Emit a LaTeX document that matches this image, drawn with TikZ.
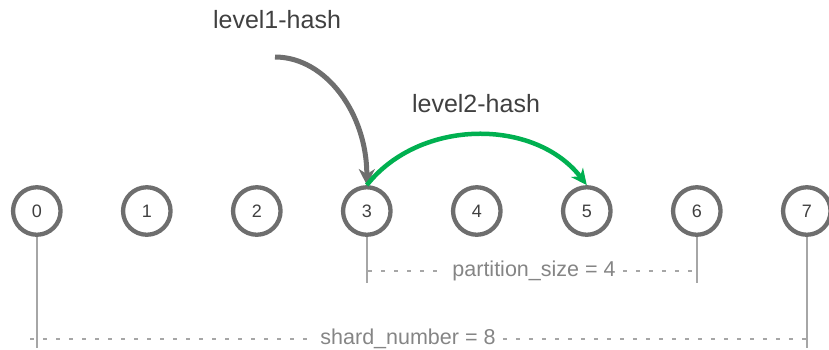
\documentclass[tikz,border=0pt]{standalone}
\usepackage{fontspec}
\setmainfont{Liberation Sans}
\usetikzlibrary{arrows.meta}
\definecolor{ringgray}{HTML}{6E6E6E}
\definecolor{txtgray}{HTML}{404040}
\definecolor{dimline}{HTML}{A6A6A6}
\definecolor{dimtxt}{HTML}{858585}
\definecolor{hashgreen}{HTML}{00B050}
\tikzset{
  shard/.style={circle, draw=ringgray, line width=4.3pt, minimum size=47.5pt, inner sep=0pt, fill=white, text=txtgray, font=\fontsize{18pt}{20pt}\selectfont},
  hashlabel/.style={text=txtgray, font=\fontsize{25pt}{28pt}\selectfont, inner sep=0pt},
  dimlabel/.style={text=dimtxt, font=\fontsize{21.5pt}{24pt}\selectfont, inner sep=7pt},
  dimtick/.style={draw=dimline, line width=1.5pt},
  dimdash/.style={draw=dimline, line width=1.3pt, dash pattern=on 4pt off 9pt},
  grayarrow/.style={draw=ringgray, line width=5pt, -{Stealth[length=16pt,width=16pt,inset=5pt]}},
  greenarrow/.style={draw=hashgreen, line width=4.5pt, -{Stealth[length=16pt,width=15pt,inset=5pt]}},
}
\begin{document}
\begin{tikzpicture}[x=1pt,y=-1pt]
\useasboundingbox (0,0) rectangle (829,349);
\foreach \i in {0,...,7} {
  \node[shard] (c\i) at ({36.8+110*\i},211) {\i};
}
\node[hashlabel] (l1) at (277,20) {level1-hash};
\node[hashlabel] (l2) at (476,104) {level2-hash};
\coordinate (g1) at (275,57);
\draw[grayarrow] (g1) .. controls (326,57) and (367,114) .. (c3.north);
\draw[greenarrow] (c3.north) .. controls (420,118) and (535,118) .. (c5.north);
% ticks
\coordinate (t0) at (36.8,348);
\coordinate (t3) at (366.8,283);
\coordinate (t6) at (696.8,283);
\coordinate (t7) at (806.8,348);
\draw[dimtick] (c0.south) -- (t0);
\draw[dimtick] (c3.south) -- (t3);
\draw[dimtick] (c6.south) -- (t6);
\draw[dimtick] (c7.south) -- (t7);
% partition size
\node[dimlabel] (ps) at (534,271) {partition\_size = 4};
\coordinate (p1) at (368,271);
\coordinate (p2) at (696,271);
\draw[dimdash] (p1) -- (ps.west);
\draw[dimdash] (ps.east) -- (p2);
% shard number
\node[dimlabel] (sn) at (408,339) {shard\_number = 8};
\coordinate (s1) at (30,339);
\coordinate (s2) at (806,339);
\draw[dimdash] (s1) -- (sn.west);
\draw[dimdash] (sn.east) -- (s2);
\end{tikzpicture}
\end{document}
